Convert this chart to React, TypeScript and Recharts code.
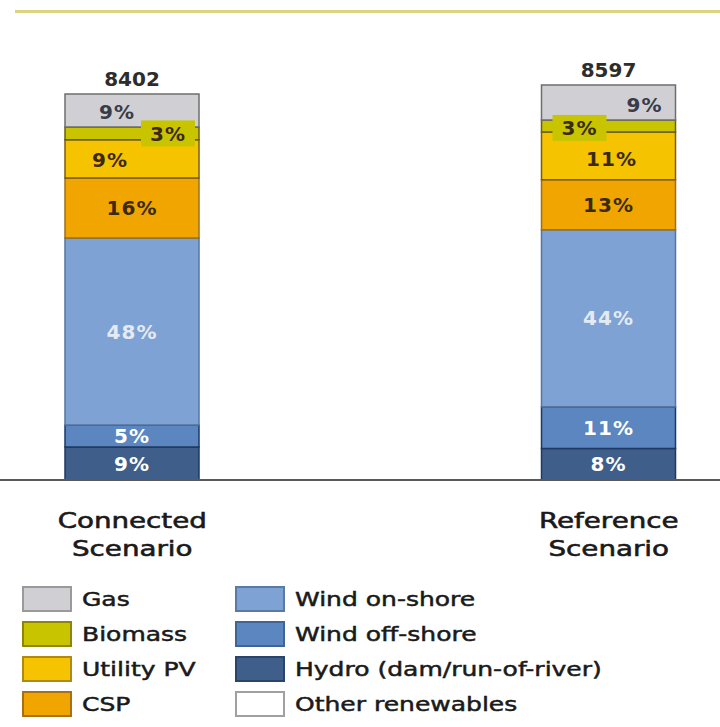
import { BarChart, Bar, XAxis, YAxis, LabelList } from "recharts";

const scenarios = ["Connected Scenario", "Reference Scenario"];
const totals = [8402, 8597];

// segment sizes (same unit as the totals)
const gas = [718, 760];
const biomass = [280, 260];
const utilityPv = [830, 1040];
const csp = [1306, 1090];
const windOnshore = [4070, 3850];
const windOffshore = [480, 910];
const hydro = [718, 687];
const otherRenewables = [0, 0];

// shares printed on the segments (%)
const gasShare = [9, 9];
const biomassShare = [3, 3];
const utilityPvShare = [9, 11];
const cspShare = [16, 13];
const windOnshoreShare = [48, 44];
const windOffshoreShare = [5, 11];
const hydroShare = [9, 8];

type Series = {
    key: string;
    name: string;
    values: number[];
    shares?: number[];
    fill: string;
    stroke: string;
    border: string;
    text: string;
};

// stack order, bottom to top
const SERIES: Series[] = [
    { key: "hydro", name: "Hydro (dam/run-of-river)", values: hydro, shares: hydroShare, fill: "#3f5e8a", stroke: "#1e3a64", border: "#2a456c", text: "#ffffff" },
    { key: "windOffshore", name: "Wind off-shore", values: windOffshore, shares: windOffshoreShare, fill: "#5b86bf", stroke: "#1e3a64", border: "#3e6596", text: "#ffffff" },
    { key: "windOnshore", name: "Wind on-shore", values: windOnshore, shares: windOnshoreShare, fill: "#7ea2d3", stroke: "#56759f", border: "#5a7aa6", text: "#e4eaf3" },
    { key: "csp", name: "CSP", values: csp, shares: cspShare, fill: "#f1a500", stroke: "#9b7020", border: "#a87010", text: "#3a2a10" },
    { key: "utilityPv", name: "Utility PV", values: utilityPv, shares: utilityPvShare, fill: "#f6c300", stroke: "#7d5c12", border: "#b08a10", text: "#3a2a10" },
    { key: "biomass", name: "Biomass", values: biomass, shares: biomassShare, fill: "#c9c400", stroke: "#6a5d14", border: "#8f8500", text: "#3a2a10" },
    { key: "gas", name: "Gas", values: gas, shares: gasShare, fill: "#d0d0d4", stroke: "#6e6e6e", border: "#9a9a9a", text: "#3a3a48" },
    { key: "other", name: "Other renewables", values: otherRenewables, fill: "#ffffff", stroke: "#a0a0a0", border: "#a0a0a0", text: "#333" },
];

const LEGEND_COLUMNS = [
    ["gas", "biomass", "utilityPv", "csp"],
    ["windOnshore", "windOffshore", "hydro", "other"],
];

// a few labels sit off-centre in the original
const LABEL_NUDGE: Record<string, [number, number][]> = {
    gas: [[-15, 1], [36, 2]],
    biomass: [[36, 0], [-29, 2]],
    utilityPv: [[-22, 1], [3, 3]],
};

const FONT = "'DejaVu Sans', sans-serif";

const renderShare = (s: Series) => (props: any) => {
    const vb = props.viewBox ?? props;
    const index = props.index;
    const share = s.shares?.[index];
    if (share == null) return null;
    const [dx, dy] = LABEL_NUDGE[s.key]?.[index] ?? [0, 0];
    const cx = vb.x + vb.width / 2 + dx;
    const cy = vb.y + vb.height / 2 + dy;
    return (
        <g key={`${s.key}-${index}`}>
            {s.key === "biomass" && <rect x={cx - 27} y={cy - 13} width={54} height={26} fill={s.fill} />}
            <text x={cx} y={cy} dy="0.36em" textAnchor="middle" fontFamily={FONT} fontSize={20} fontWeight="bold" letterSpacing={1} fill={s.text}>
                {share}%
            </text>
        </g>
    );
};

const renderTotal = (props: any) => {
    const vb = props.viewBox ?? props;
    return (
        <text x={vb.x + vb.width / 2} y={vb.y - 8} textAnchor="middle" fontFamily={FONT} fontSize={20} fontWeight="bold" fill="#2d2d2d">
            {props.value}
        </text>
    );
};

const CategoryTick = (props: any) => {
    const { x, y, payload } = props;
    const lines = String(payload.value).split(" ");
    return (
        <g transform={`translate(${x},${y}) scale(1.26,1)`}>
            {lines.map((line, i) => (
                <text
                    key={line}
                    x={0}
                    y={46 + i * 28}
                    textAnchor="middle"
                    fontFamily={FONT}
                    fontSize={22}
                    fill="#1a1a1a"
                    stroke="#1a1a1a"
                    strokeWidth={0.6}
                >
                    {line}
                </text>
            ))}
        </g>
    );
};

const LegendGrid = () => (
    <div style={{ position: "absolute", left: 22, top: 586 }}>
        {LEGEND_COLUMNS.map((col, ci) => (
            <div key={ci} style={{ position: "absolute", left: ci * 213, top: 0 }}>
                {col.map((key, ri) => {
                    const s = SERIES.find((x) => x.key === key)!;
                    return (
                        <div key={key} style={{ position: "absolute", top: ri * 35, left: 0, height: 26, display: "flex", alignItems: "center", whiteSpace: "nowrap" }}>
                            <div style={{ width: 50, height: 26, boxSizing: "border-box", background: s.fill, border: `2px solid ${s.border}` }} />
                            <span
                                style={{
                                    display: "inline-block",
                                    marginLeft: 10,
                                    fontFamily: FONT,
                                    fontSize: 20,
                                    color: "#1a1a1a",
                                    WebkitTextStroke: "0.5px #1a1a1a",
                                    transform: "scaleX(1.25)",
                                    transformOrigin: "left center",
                                }}
                            >
                                {s.name}
                            </span>
                        </div>
                    );
                })}
            </div>
        ))}
    </div>
);

const App = () => {
    const data = scenarios.map((scenario, i) => {
        const row: Record<string, string | number> = { scenario, total: totals[i] };
        SERIES.forEach((s) => {
            row[s.key] = s.values[i];
        });
        return row;
    });

    return (
        <div style={{ position: "absolute", left: 0, top: 0, width: 720, height: 727, overflow: "hidden", background: "#fff" }}>
            <div style={{ position: "absolute", left: 15, right: 0, top: 10, height: 3, background: "#d9d382" }} />
            <div style={{ position: "absolute", left: -106, top: 0 }}>
                <BarChart width={953} height={580} data={data} margin={{ top: 20.6, right: 0, bottom: 0, left: 0 }}>
                    <YAxis hide domain={[0, 10000]} />
                    <XAxis
                        dataKey="scenario"
                        height={100}
                        interval={0}
                        tickLine={false}
                        tickSize={0}
                        axisLine={{ stroke: "#5a5a5a", strokeWidth: 2 }}
                        tick={<CategoryTick />}
                    />
                    {SERIES.map((s) => (
                        <Bar
                            key={s.key}
                            dataKey={s.key}
                            stackId="mix"
                            fill={s.fill}
                            stroke={s.stroke}
                            strokeWidth={1.5}
                            barSize={134}
                            isAnimationActive={false}
                        >
                            {s.shares && <LabelList dataKey={s.key} content={renderShare(s)} />}
                            {s.key === "gas" && <LabelList dataKey="total" content={renderTotal} />}
                        </Bar>
                    ))}
                </BarChart>
            </div>
            <LegendGrid />
        </div>
    );
};

export default App;
